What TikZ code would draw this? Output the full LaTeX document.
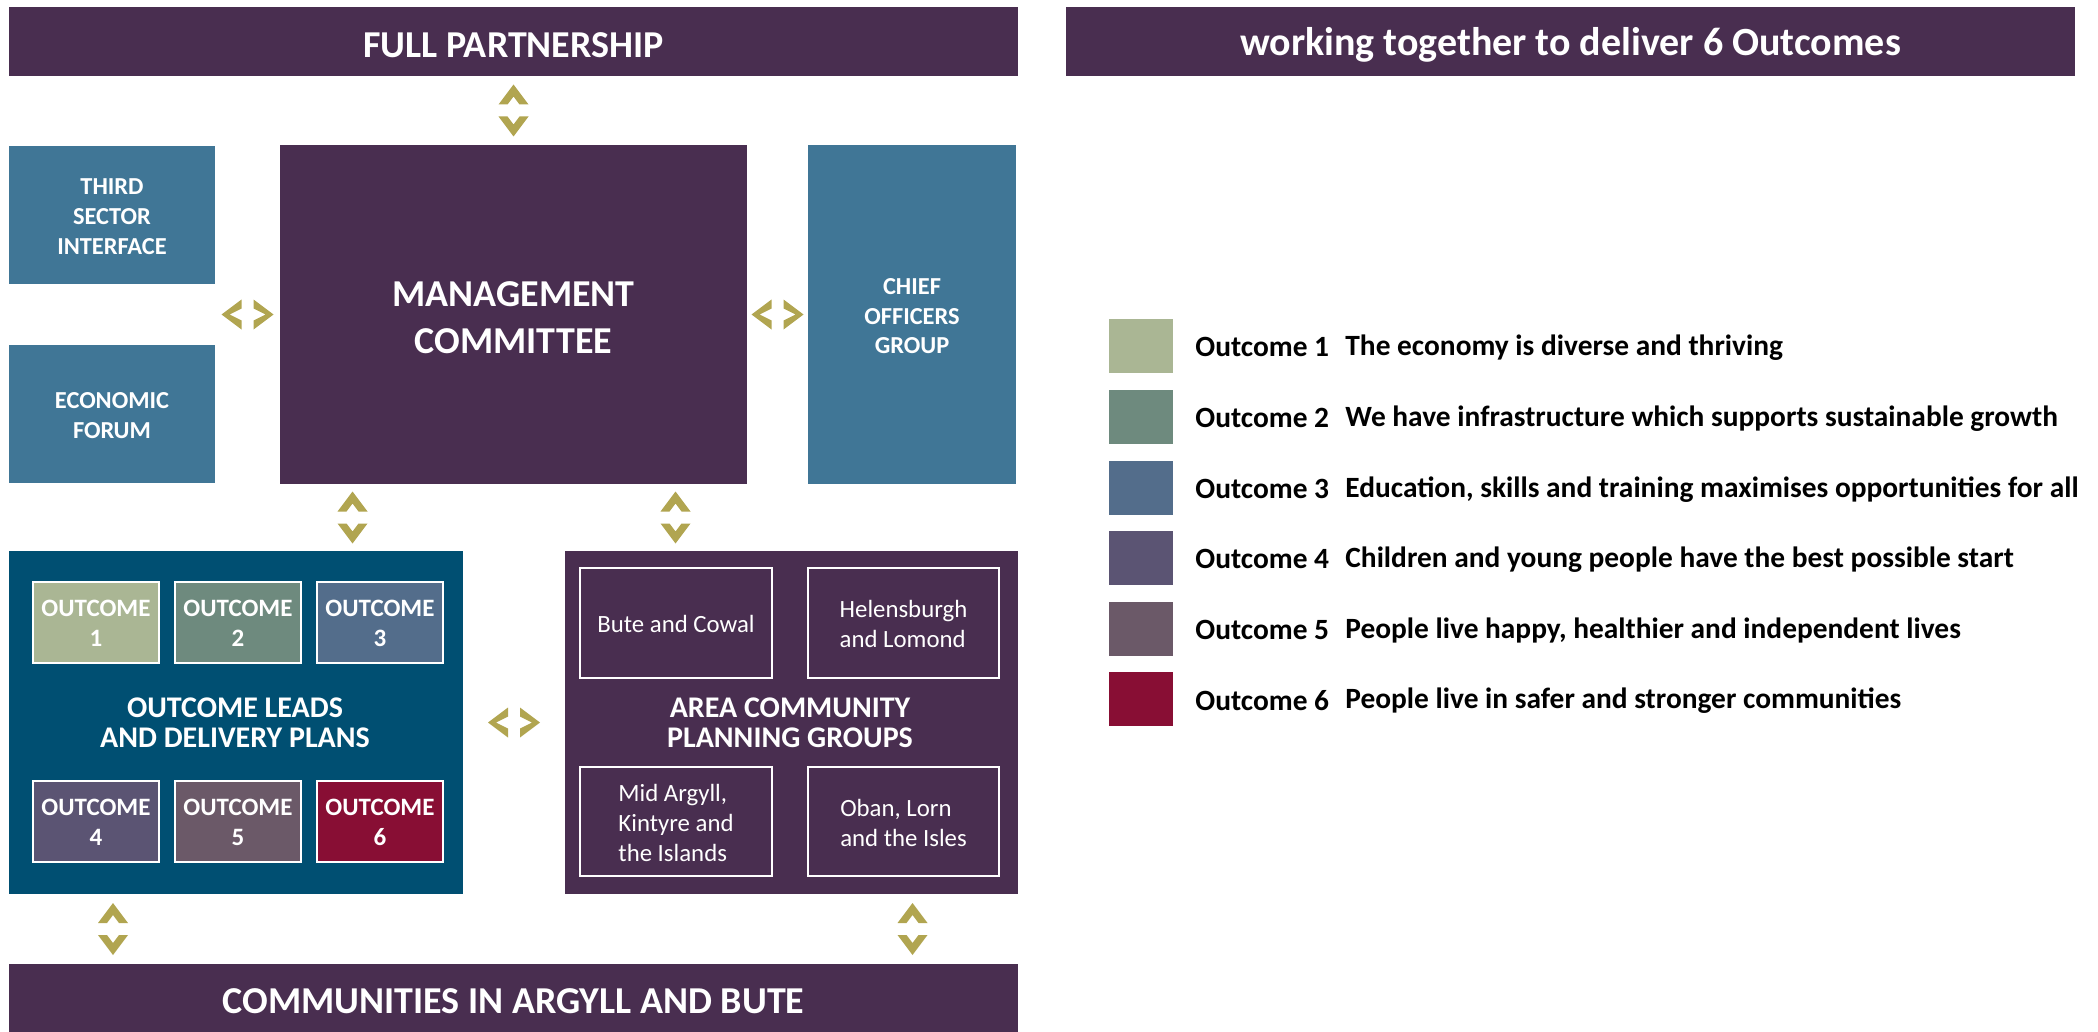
\documentclass[tikz,border=0pt]{standalone}
\usepackage{fontspec}
\setmainfont{Carlito}
\usetikzlibrary{calc}
\definecolor{cpurple}{HTML}{492E50}
\definecolor{csteel}{HTML}{407696}
\definecolor{cdeep}{HTML}{004F72}
\definecolor{cgold}{HTML}{B1A550}
\definecolor{oca}{HTML}{AAB694}
\definecolor{ocb}{HTML}{6E8A7E}
\definecolor{occ}{HTML}{536D8B}
\definecolor{ocd}{HTML}{5B5473}
\definecolor{oce}{HTML}{6B5968}
\definecolor{ocf}{HTML}{880E34}
\tikzset{
  wh/.style 2 args={minimum width=#1*0.5pt, minimum height=#2*0.5pt},
  shp/.style={inner sep=0pt, outer sep=0pt},
  tx/.style={inner sep=0pt, outer sep=0pt, text=white, align=center},
  bigtxt/.style={tx, yshift=-1.6pt, font=\bfseries\fontsize{19}{23.5}\selectfont},
  midtxt/.style={tx, yshift=-0.8pt, font=\bfseries\fontsize{12.2}{14.8}\selectfont},
  octxt/.style={tx, yshift=-0.7pt, font=\bfseries\fontsize{12.5}{15}\selectfont},
  leadtxt/.style={tx, yshift=-0.8pt, font=\bfseries\fontsize{15}{15}\selectfont},
  areatxt/.style={tx, yshift=-0.7pt, align=left, font=\fontsize{12.4}{15}\selectfont},
  obox/.style={shp, draw=white, line width=1pt, wh={126}{81}},
  abox/.style={shp, draw=white, line width=1pt, fill=cpurple, wh={192}{110}},
  lsq/.style={shp, wh={64}{54}},
  ltxt/.style={inner sep=0pt, anchor=west, yshift=-0.6pt, font=\bfseries\fontsize{14.7}{17}\selectfont},
  chevup/.pic={\fill[cgold] (0,-10) -- (15,10) -- (6,10) -- (0,2) -- (-6,10) -- (-15,10) -- cycle;},
  chevdown/.pic={\fill[cgold] (0,10) -- (15,-10) -- (6,-10) -- (0,-2) -- (-6,-10) -- (-15,-10) -- cycle;},
  chevleft/.pic={\fill[cgold] (-10,0) -- (10,-15) -- (10,-6) -- (-2,0) -- (10,6) -- (10,15) -- cycle;},
  chevright/.pic={\fill[cgold] (10,0) -- (-10,-15) -- (-10,-6) -- (2,0) -- (-10,6) -- (-10,15) -- cycle;},
}
\begin{document}
\begin{tikzpicture}[x=0.5pt,y=-0.5pt]
\useasboundingbox[fill=white] (0,0) rectangle (2098,1032);
% top bars
\node[shp, fill=cpurple, wh={1009}{69}] (fp) at (513.5,41.5) {};
\node[bigtxt] (fpt) at (fp.center) {FULL PARTNERSHIP};
\node[shp, fill=cpurple, wh={1009}{69}] (wt) at (1570.5,41.5) {};
\node[bigtxt, font=\bfseries\fontsize{20}{24}\selectfont] (wtt) at (wt.center) {working together to deliver 6 Outcomes};
% middle row
\node[shp, fill=csteel, wh={206}{138}] (ts) at (112,215) {};
\node[midtxt] (tst) at (ts.center) {THIRD\\SECTOR\\INTERFACE};
\node[shp, fill=csteel, wh={206}{138}] (ef) at (112,414) {};
\node[midtxt] (eft) at (ef.center) {ECONOMIC\\FORUM};
\node[shp, fill=cpurple, wh={467}{339}] (mc) at (513.5,314.5) {};
\node[bigtxt] (mct) at (mc.center) {MANAGEMENT\\COMMITTEE};
\node[shp, fill=csteel, wh={208}{339}] (co) at (912,314.5) {};
\node[midtxt] (cot) at (co.center) {CHIEF\\OFFICERS\\GROUP};
% lower row
\node[shp, fill=cdeep, wh={454}{343}] (ol) at (236,722.5) {};
\node[leadtxt] (oltxt) at (235,721) {OUTCOME LEADS\\AND DELIVERY PLANS};
\node[obox, fill=oca] (o1) at (96,622) {};
\node[octxt] (o1t) at (o1.center) {OUTCOME\\1};
\node[obox, fill=ocb] (o2) at (238,622) {};
\node[octxt] (o2t) at (o2.center) {OUTCOME\\2};
\node[obox, fill=occ] (o3) at (380,622) {};
\node[octxt] (o3t) at (o3.center) {OUTCOME\\3};
\node[obox, fill=ocd] (o4) at (96,821) {};
\node[octxt] (o4t) at (o4.center) {OUTCOME\\4};
\node[obox, fill=oce] (o5) at (238,821) {};
\node[octxt] (o5t) at (o5.center) {OUTCOME\\5};
\node[obox, fill=ocf] (o6) at (380,821) {};
\node[octxt] (o6t) at (o6.center) {OUTCOME\\6};
\node[shp, fill=cpurple, wh={453}{343}] (ac) at (791.5,722.5) {};
\node[leadtxt] (actxt) at (790,721) {AREA COMMUNITY\\PLANNING GROUPS};
\node[abox] (a1) at (676,623) {};
\node[areatxt] (a1t) at (a1.center) {Bute and Cowal};
\node[abox, wh={191}{110}] (a2) at (903.5,623) {};
\node[areatxt] (a2t) at (a2.center) {Helensburgh\\and Lomond};
\node[abox, wh={192}{109}] (a3) at (676,821.5) {};
\node[areatxt] (a3t) at (a3.center) {Mid Argyll,\\Kintyre and\\the Islands};
\node[abox, wh={191}{109}] (a4) at (903.5,821.5) {};
\node[areatxt] (a4t) at (a4.center) {Oban, Lorn\\and the Isles};
% bottom bar
\node[shp, fill=cpurple, wh={1009}{68}] (bb) at (513.5,998) {};
\node[bigtxt] (bbt) at (bb.center) {COMMUNITIES IN ARGYLL AND BUTE};
% chevron connectors
\coordinate (c1) at ($(fp.south)!0.5!(mc.north)$);
\pic at ($(c1)+(0,-16)$) {chevup};
\pic at ($(c1)+(0,16)$) {chevdown};
\coordinate (c2) at ($(ts.east|-mc.west)!0.5!(mc.west)$);
\pic at ($(c2)+(-16,0)$) {chevleft};
\pic at ($(c2)+(16,0)$) {chevright};
\coordinate (c3) at ($(mc.east)!0.5!(co.west)$);
\pic at ($(c3)+(-16,0)$) {chevleft};
\pic at ($(c3)+(16,0)$) {chevright};
\coordinate (c4) at ($(mc.south)!0.5!(mc.south|-ol.north)+(-161,0)$);
\pic at ($(c4)+(0,-16)$) {chevup};
\pic at ($(c4)+(0,16)$) {chevdown};
\coordinate (c5) at ($(mc.south)!0.5!(mc.south|-ac.north)+(162,0)$);
\pic at ($(c5)+(0,-16)$) {chevup};
\pic at ($(c5)+(0,16)$) {chevdown};
\coordinate (c6) at ($(ol.east)!0.5!(ac.west)$);
\pic at ($(c6)+(-16,0)$) {chevleft};
\pic at ($(c6)+(16,0)$) {chevright};
\coordinate (c7) at ($(ol.south)!0.5!(ol.south|-bb.north)+(-123,0)$);
\pic at ($(c7)+(0,-16)$) {chevup};
\pic at ($(c7)+(0,16)$) {chevdown};
\coordinate (c8) at ($(ac.south)!0.5!(ac.south|-bb.north)+(121,0)$);
\pic at ($(c8)+(0,-16)$) {chevup};
\pic at ($(c8)+(0,16)$) {chevdown};
% legend
\node[lsq, fill=oca] (l1) at (1141,346) {};
\node[lsq, fill=ocb] (l2) at (1141,417) {};
\node[lsq, fill=occ] (l3) at (1141,488) {};
\node[lsq, fill=ocd] (l4) at (1141,558) {};
\node[lsq, fill=oce] (l5) at (1141,629) {};
\node[lsq, fill=ocf] (l6) at (1141,699) {};
\node[ltxt] (n1) at (1195,346) {Outcome 1};
\node[ltxt] (n2) at (1195,417) {Outcome 2};
\node[ltxt] (n3) at (1195,488) {Outcome 3};
\node[ltxt] (n4) at (1195,558) {Outcome 4};
\node[ltxt] (n5) at (1195,629) {Outcome 5};
\node[ltxt] (n6) at (1195,699) {Outcome 6};
\node[ltxt] (d1) at (1345,346) {The economy is diverse and thriving};
\node[ltxt] (d2) at (1345,417) {We have infrastructure which supports sustainable growth};
\node[ltxt] (d3) at (1345,488) {Education, skills and training maximises opportunities for all};
\node[ltxt] (d4) at (1345,558) {Children and young people have the best possible start};
\node[ltxt] (d5) at (1345,629) {People live happy, healthier and independent lives};
\node[ltxt] (d6) at (1345,699) {People live in safer and stronger communities};
\end{tikzpicture}
\end{document}
